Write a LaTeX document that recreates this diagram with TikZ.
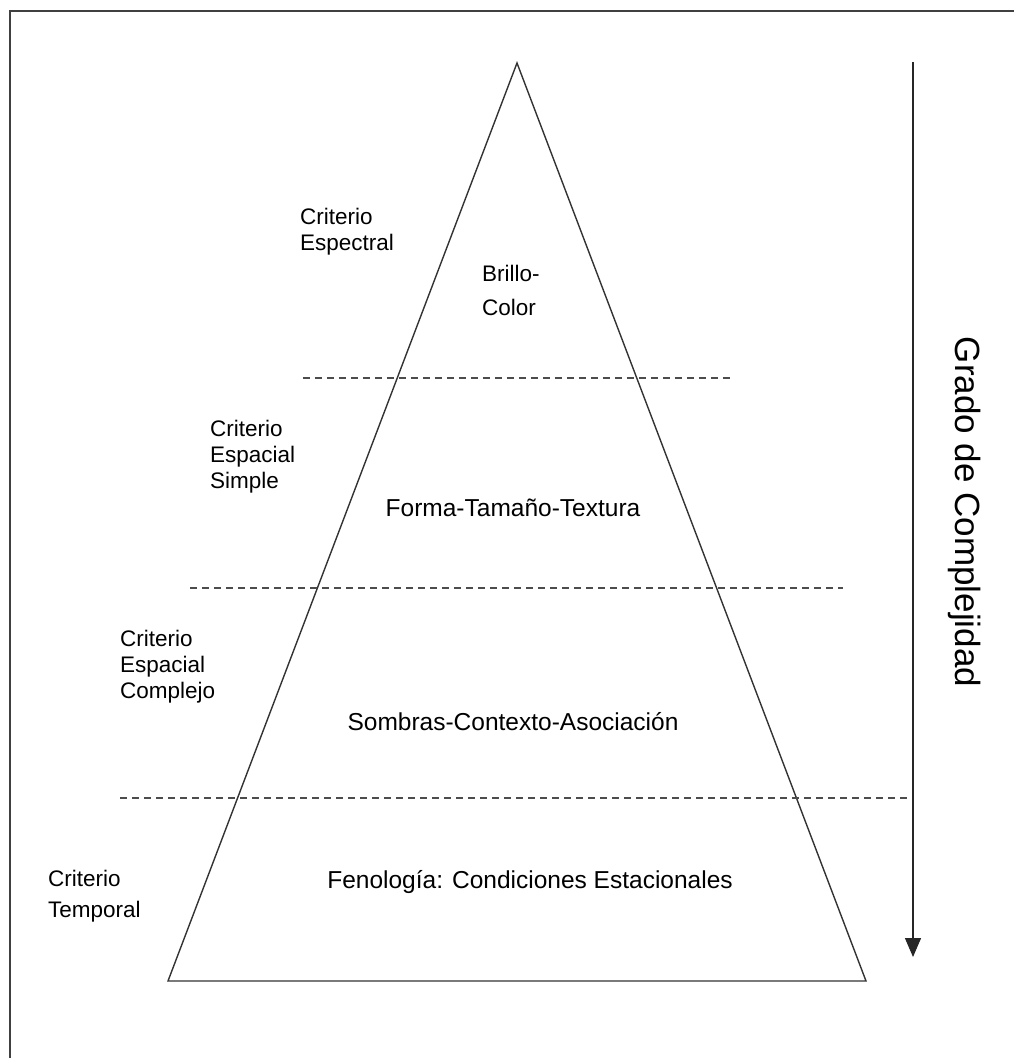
\documentclass[tikz,border=0pt]{standalone}
\usepackage{fontspec}
\setmainfont{Liberation Sans}
\usetikzlibrary{arrows.meta}

\begin{document}
\begin{tikzpicture}[x=1pt,y=-1pt,
  crit/.style={font=\fontsize{22.5}{26}\selectfont, align=left, inner sep=0pt, anchor=west},
  tema/.style={font=\fontsize{24.5}{28}\selectfont, inner sep=0pt},
  nivel/.style={dash pattern=on 7pt off 5pt, line width=1.1pt, black!70}]
  \useasboundingbox (0,0) rectangle (1014,1058);
  \draw[line width=2pt, black!75] (1014,11) -- (10,11) -- (10,1058);

  % piramide
  \coordinate (apex)  at (517,63);
  \coordinate (baseL) at (168,981);
  \coordinate (baseR) at (866,981);
  \draw[line width=1.4pt, black!80, line join=miter] (baseL) -- (apex) -- (baseR) -- cycle;

  % niveles
  \draw[nivel] (303,378) -- (733,378);
  \draw[nivel] (190,588) -- (843,588);
  \draw[nivel] (120,798) -- (908,798);

  % criterios
  \node (espectral) at (300,232) [crit] {Criterio\\Espectral};
  \node (simple)    at (210,457) [crit] {Criterio\\Espacial\\Simple};
  \node (complejo)  at (120,667) [crit] {Criterio\\Espacial\\Complejo};
  \node (temporal)  at (48,896)  [crit, font=\fontsize{22.5}{31}\selectfont] {Criterio\\Temporal};

  % contenido de cada nivel
  \node (brillo)    at (482,290) [crit, font=\fontsize{22.5}{34}\selectfont] {Brillo-\\Color};
  \node (forma)     at (513,508) [tema] {Forma-Tamaño-Textura};
  \node (sombras)   at (513,722) [tema] {Sombras-Contexto-Asociación};
  \node (fenologia) at (530,882) [tema] {Fenología: Condiciones Estacionales};

  % complejidad
  \coordinate (gradoA) at (913,62);
  \coordinate (gradoB) at (913,957);
  \draw[line width=1.3pt, black!85, -{Triangle[length=19pt,width=16pt]}] (gradoA) -- (gradoB);
  \node (grado) at (965,512) [tema, font=\fontsize{35}{38}\selectfont, rotate=-90] {Grado de Complejidad};
\end{tikzpicture}
\end{document}
